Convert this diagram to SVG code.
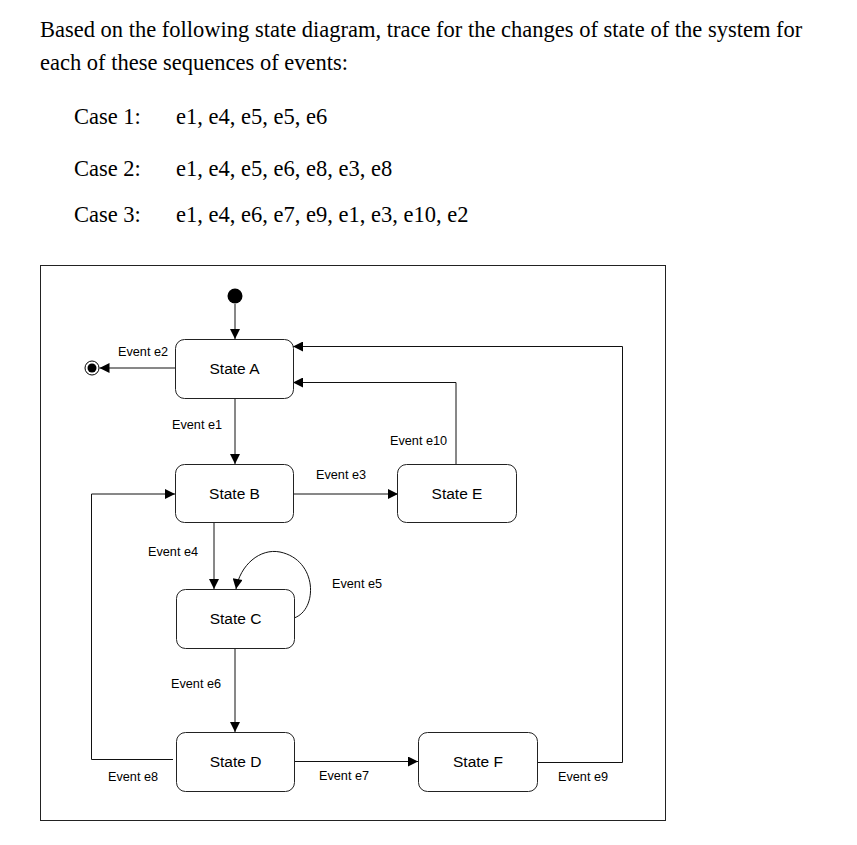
<svg xmlns="http://www.w3.org/2000/svg" width="857" height="845" viewBox="0 0 857 845">
<style>
.q{font-family:"Liberation Serif","Times New Roman",serif;font-size:22.5px;fill:#000}
.st rect{fill:#fff;stroke:#222;stroke-width:1}
.st text{font-family:"Liberation Sans",Arial,sans-serif;font-size:15.5px;fill:#000;text-anchor:middle}
.lb{font-family:"Liberation Sans",Arial,sans-serif;font-size:12.7px;fill:#000}
.c path{fill:none;stroke:#111;stroke-width:1}
</style>
<defs>
<marker id="ah" viewBox="0 0 10 10" refX="10" refY="5" markerWidth="11" markerHeight="10" markerUnits="userSpaceOnUse" orient="auto">
<path d="M0,0 L10,5 L0,10 Z" fill="#000"/>
</marker>
</defs>
<rect width="857" height="845" fill="#fff"/>
<g id="question">
<text class="q" x="40" y="37">Based on the following state diagram, trace for the changes of state of the system for</text>
<text class="q" x="40" y="70">each of these sequences of events:</text>
<text class="q" x="74" y="124">Case 1:</text><text class="q" x="176" y="124">e1, e4, e5, e5, e6</text>
<text class="q" x="74" y="176">Case 2:</text><text class="q" x="176" y="176">e1, e4, e5, e6, e8, e3, e8</text>
<text class="q" x="74" y="222">Case 3:</text><text class="q" x="176" y="222">e1, e4, e6, e7, e9, e1, e3, e10, e2</text>
</g>
<rect id="frame" x="40.5" y="265.5" width="625" height="555" fill="none" stroke="#222" stroke-width="1"/>
<g id="initial"><circle cx="235" cy="296" r="7.5" fill="#000"/></g>
<g id="final"><circle cx="92" cy="368" r="7" fill="#fff" stroke="#000" stroke-width="1"/><circle cx="92" cy="368" r="4.5" fill="#000"/></g>
<g class="c" id="connectors">
<path d="M235,304 V339" marker-end="url(#ah)"/>
<path d="M175,368 H99.5" marker-end="url(#ah)"/>
<path d="M235,398 V464" marker-end="url(#ah)"/>
<path d="M293,494 H398" marker-end="url(#ah)"/>
<path d="M456,464 V382.5 H293" marker-end="url(#ah)"/>
<path d="M537,762.5 H622.5 V346.5 H293" marker-end="url(#ah)"/>
<path d="M214,522 V589" marker-end="url(#ah)"/>
<path d="M294,618 C318,610 318,560 280,552 C260,548 240,565 236,589" marker-end="url(#ah)"/>
<path d="M235,648 V732" marker-end="url(#ah)"/>
<path d="M294,761.5 H418" marker-end="url(#ah)"/>
<path d="M173,759.5 H91.5 V494 H175" marker-end="url(#ah)"/>
</g>
<g id="labels">
<text class="lb" x="118" y="356">Event e2</text>
<text class="lb" x="172" y="429">Event e1</text>
<text class="lb" x="316" y="479">Event e3</text>
<text class="lb" x="390" y="445">Event e10</text>
<text class="lb" x="148" y="556">Event e4</text>
<text class="lb" x="332" y="588">Event e5</text>
<text class="lb" x="171" y="688">Event e6</text>
<text class="lb" x="319" y="780">Event e7</text>
<text class="lb" x="108" y="781">Event e8</text>
<text class="lb" x="558" y="781">Event e9</text>
</g>
<g id="stateA" class="st"><rect x="175.5" y="339.5" width="118" height="59" rx="9"/><text x="234.5" y="374">State A</text></g>
<g id="stateB" class="st"><rect x="175.5" y="464.5" width="118" height="58" rx="9"/><text x="234.5" y="499">State B</text></g>
<g id="stateC" class="st"><rect x="176.5" y="589.5" width="118" height="59" rx="9"/><text x="235.5" y="624">State C</text></g>
<g id="stateD" class="st"><rect x="176.5" y="732.5" width="118" height="59" rx="9"/><text x="235.5" y="767">State D</text></g>
<g id="stateE" class="st"><rect x="397.5" y="464.5" width="119" height="58" rx="9"/><text x="457" y="499">State E</text></g>
<g id="stateF" class="st"><rect x="418.5" y="732.5" width="119" height="59" rx="9"/><text x="478" y="767">State F</text></g>
</svg>
